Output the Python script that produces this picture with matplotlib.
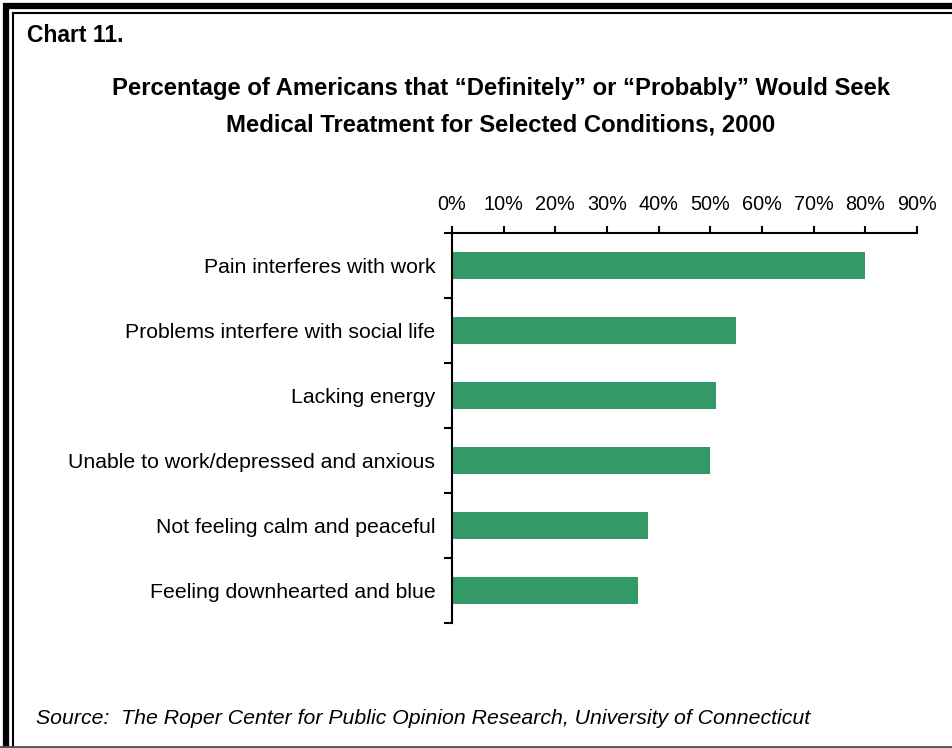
import matplotlib.pyplot as plt
from matplotlib import font_manager
from matplotlib.patches import Rectangle
from matplotlib.ticker import FixedLocator, PercentFormatter

conditions = [
    "Pain interferes with work",
    "Problems interfere with social life",
    "Lacking energy",
    "Unable to work/depressed and anxious",
    "Not feeling calm and peaceful",
    "Feeling downhearted and blue",
]
percent = [80, 55, 51, 50, 38, 36]
x_ticks = [0, 10, 20, 30, 40, 50, 60, 70, 80, 90]

installed = {f.name for f in font_manager.fontManager.ttflist}
has_narrow = "Liberation Sans Narrow" in installed
narrow = "Liberation Sans Narrow" if has_narrow else "Liberation Sans"
plt.rcParams["font.family"] = ["Liberation Sans", "DejaVu Sans"]

fig = plt.figure(figsize=(9.52, 7.48), dpi=100)
ax = fig.add_axes([452 / 952, 1 - 623 / 748, 465 / 952, 390 / 748])

y = list(range(len(conditions)))
ax.barh(y, percent, height=0.43, color="#339966")
ax.set_xlim(0, 90)
ax.set_ylim(len(conditions) - 0.5, -0.5)

ax.xaxis.tick_top()
ax.set_xticks(x_ticks)
ax.xaxis.set_major_formatter(PercentFormatter(decimals=0))
ax.tick_params(axis="x", length=5, width=1.5, pad=9, labelsize=14.3, direction="out")

ax.set_yticks(y)
ax.set_yticklabels(conditions)
ax.tick_params(axis="y", which="major", length=0, pad=12, labelsize=15.3)
ax.yaxis.set_minor_locator(FixedLocator([i - 0.5 for i in range(len(conditions) + 1)]))
ax.tick_params(axis="y", which="minor", length=6, width=1.5, direction="out")

for side in ["right", "bottom"]:
    ax.spines[side].set_visible(False)
for side in ["left", "top"]:
    ax.spines[side].set_linewidth(1.5)

title_size = 20 if has_narrow else 17.2
fig.text(27 / 952, 1 - 35 / 748, "Chart 11.", fontsize=16.5, fontweight="bold", va="center")
fig.text(501 / 952, 1 - 88 / 748, "Percentage of Americans that \u201cDefinitely\u201d or \u201cProbably\u201d Would Seek",
         family=narrow, fontsize=title_size, fontweight="bold", ha="center", va="center")
fig.text(501 / 952, 1 - 125 / 748, "Medical Treatment for Selected Conditions, 2000",
         family=narrow, fontsize=title_size, fontweight="bold", ha="center", va="center")
fig.text(36 / 952, 1 - 718 / 748,
         "Source:  The Roper Center for Public Opinion Research, University of Connecticut",
         family=narrow, fontsize=15.3, style="italic", va="center")

# double frame, cut off on the right and bottom
fig.patches.append(Rectangle((6, -20), 1000, 762, transform=None, fill=False,
                             edgecolor="black", linewidth=4.5))
fig.patches.append(Rectangle((12.5, -20), 1000, 755.5, transform=None, fill=False,
                             edgecolor="black", linewidth=1.5))
fig.lines.append(plt.Line2D([0, 952], [1.5, 1.5], transform=None, color="#555555", linewidth=2))

fig.savefig("out.png", dpi=100)
